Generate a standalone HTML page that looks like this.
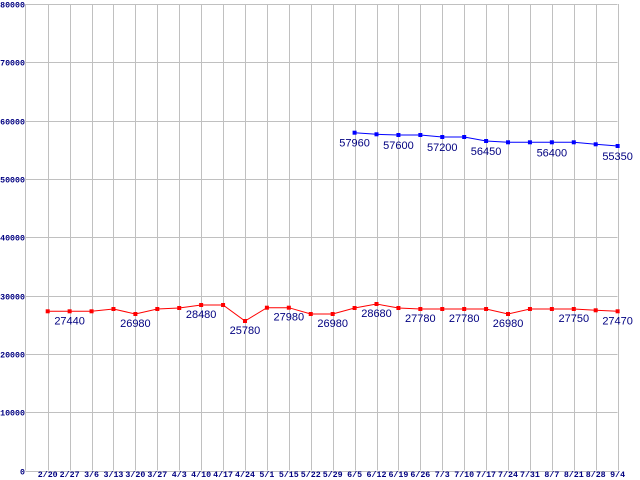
<!DOCTYPE html>
<html><head><meta charset="utf-8"><style>
html,body{margin:0;padding:0;background:#fff;}
svg{display:block;}
.ax{font-family:"Liberation Mono",monospace;font-weight:bold;font-size:8.3px;fill:#000080;}
.lb{font-family:"Liberation Sans",sans-serif;font-size:11px;fill:#000080;}
</style></head><body>
<svg width="640" height="480" xmlns="http://www.w3.org/2000/svg">
<g id="grid" stroke="#c0c0c0" stroke-width="1" fill="none"></g>
<g id="txt"></g>
<g id="series"></g>
</svg>
<script>
var ns="http://www.w3.org/2000/svg";
function el(t,a,p,txt){var e=document.createElementNS(ns,t);for(var k in a)e.setAttribute(k,a[k]);if(txt!==undefined)e.textContent=txt;p.appendChild(e);return e;}
var g=document.getElementById('grid'),tx=document.getElementById('txt'),s=document.getElementById('series');
var L=25.5,R=617.5,T=4,B=470.5;
for(var i=0;i<=8;i++){var y=T+(B-T)*i/8;y=Math.round(y)+0.5;el('line',{x1:L,x2:R,y1:y,y2:y},g);
el('text',{x:25,y:y+3,'text-anchor':'end','class':'ax'},tx,String((8-i)*10000));}
el('line',{x1:L,x2:L,y1:T,y2:B},g);
var labs="2/20 2/27 3/6 3/13 3/20 3/27 4/3 4/10 4/17 4/24 5/1 5/15 5/22 5/29 6/5 6/12 6/19 6/26 7/3 7/10 7/17 7/24 7/31 8/7 8/21 8/28 9/4".split(' ');
var X=[];for(var k=0;k<27;k++){X.push(47.7+21.92*k);}
X.forEach(function(x,k){var xx=Math.round(x)+0.5;el('line',{x1:xx,x2:xx,y1:T,y2:B},g);
el('text',{x:x,y:477,'text-anchor':'middle','class':'ax'},tx,labs[k]);});
var red=[311.3,311.3,311.3,309,314,309,308,305,305,321,307.7,307.7,314,314,308,304,308,309,309,309,309,314,309,309,309,310.3,311.3];
var redL={1:'27440',4:'26980',7:'28480',9:'25780',11:'27980',13:'26980',15:'28680',17:'27780',19:'27780',21:'26980',24:'27750',26:'27470'};
var blue={14:132.7,15:134.3,16:135,17:135,18:137,19:137,20:141,21:142.3,22:142.3,23:142.3,24:142.3,25:144.3,26:146};
var blueL={14:'57960',16:'57600',18:'57200',20:'56450',23:'56400',26:'55350'};
var p=red.map(function(y,k){return X[k]+','+y}).join(' ');
el('polyline',{points:p,fill:'none',stroke:'#ff0000','stroke-width':1},s);
red.forEach(function(y,k){el('rect',{x:X[k]-2,y:y-2,width:4,height:4,fill:'#ff0000'},s);});
var bp=[];for(var k in blue)bp.push(X[k]+','+blue[k]);
el('polyline',{points:bp.join(' '),fill:'none',stroke:'#0000ff','stroke-width':1},s);
for(var k in blue)el('rect',{x:X[k]-2,y:blue[k]-2,width:4,height:4,fill:'#0000ff'},s);
for(var k in redL)el('text',{x:X[k],y:red[k]+13,'text-anchor':'middle','class':'lb'},s,redL[k]);
for(var k in blueL)el('text',{x:X[k],y:blue[k]+14,'text-anchor':'middle','class':'lb'},s,blueL[k]);
</script>
</body></html>
